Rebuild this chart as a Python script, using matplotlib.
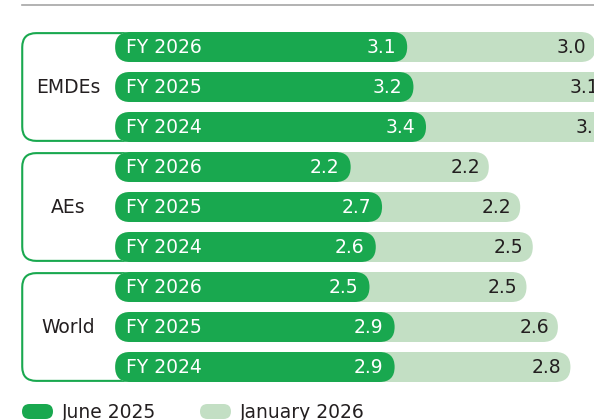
import matplotlib
matplotlib.use('Agg')
import matplotlib.pyplot as plt
from matplotlib.patches import FancyBboxPatch, Rectangle

plt.rcParams['font.family'] = ['DejaVu Sans']

# ---- data -------------------------------------------------------------
groups = ['EMDEs', 'AEs', 'World']
years = ['FY 2026', 'FY 2025', 'FY 2024']
june_2025 = [3.1, 3.2, 3.4, 2.2, 2.7, 2.6, 2.5, 2.9, 2.9]
jan_2026 = [3.0, 3.1, 3.0, 2.2, 2.2, 2.5, 2.5, 2.6, 2.8]
series_names = ['June 2025', 'January 2026']

# ---- style ------------------------------------------------------------
DARK = '#19a84f'
LIGHT = '#c3dfc4'
TEXT = '#231f20'
XMIN, XMAX = -3.384, 6.075
BAR_START = -1.55
BOX_LEFT = -3.03
LABEL_X = -2.3
BAR_H = 0.75
FS = 13.5
W, H = 594, 420

fig = plt.figure(figsize=(W / 100, H / 100), dpi=100)
ax = fig.add_axes([0, 0, 1, 1])
ax.set_xlim(XMIN, XMAX)
ax.set_ylim(9.325, -1.175)
ax.axis('off')

px_x = W / (XMAX - XMIN)
px_y = H / (9.325 + 1.175)
aspect = px_x / px_y


def pill(x0, x1, yc, h, r_px, **kw):
    r = r_px / px_x
    p = FancyBboxPatch((x0, yc - h / 2), x1 - x0, h,
                       boxstyle=f'round,pad=0,rounding_size={r}',
                       mutation_aspect=aspect, **kw)
    ax.add_patch(p)
    return p


n_years = len(years)
half_px = BAR_H * px_y / 2
frame_lw = 1.5
inset = frame_lw * 0.75 / px_y  # keep the frame line inside the bar edges

# group frames (right side hidden behind the bars)
frame_clip = Rectangle((XMIN, -2), 0 - XMIN, 14, transform=ax.transData)
for g, name in enumerate(groups):
    top = g * n_years
    bottom = top + n_years - 1
    yc = (top + bottom) / 2
    frame = pill(BOX_LEFT, 1.0, yc, bottom - top + BAR_H - 2 * inset, 14,
                 facecolor='white', edgecolor=DARK, linewidth=frame_lw,
                 zorder=1)
    frame.set_clip_path(frame_clip)
    ax.text(LABEL_X, yc, name, ha='center', va='center',
            fontsize=FS, color=TEXT, zorder=5)

# bars
for i, (a, b) in enumerate(zip(june_2025, jan_2026)):
    pill(BAR_START, a + b, i, BAR_H, half_px, facecolor=LIGHT,
         edgecolor='none', zorder=2)
    pill(BAR_START, a, i, BAR_H, half_px, facecolor=DARK,
         edgecolor='none', zorder=3)
    ax.annotate(years[i % n_years], (BAR_START, i), xytext=(8, 0),
                textcoords='offset points', ha='left', va='center',
                fontsize=FS, color='white', zorder=5)
    ax.annotate(f'{a:.1f}', (a, i), xytext=(-8, 0),
                textcoords='offset points', ha='right', va='center',
                fontsize=FS, color='white', zorder=5)
    ax.annotate(f'{b:.1f}', (a + b, i), xytext=(-6.5, 0),
                textcoords='offset points', ha='right', va='center',
                fontsize=FS, color=TEXT, zorder=5, annotation_clip=False)

# top rule
ax.plot([22 / W, 1], [1 - 5 / H, 1 - 5 / H], transform=ax.transAxes,
        color='#a6a6a6', lw=1.2, clip_on=False)

# legend
for k, (name, col) in enumerate(zip(series_names, [DARK, LIGHT])):
    x0 = (22 + 178 * k) / W
    leg = FancyBboxPatch((x0, 1 - 419 / H), 31 / W, 15 / H,
                         boxstyle=f'round,pad=0,rounding_size={7.5 / W}',
                         mutation_aspect=W / H, transform=ax.transAxes,
                         facecolor=col, edgecolor='none', clip_on=False)
    ax.add_patch(leg)
    ax.text(x0 + 40 / W, 1 - 412 / H, name, transform=ax.transAxes,
            ha='left', va='center', fontsize=FS, color=TEXT)

fig.savefig('out.png', dpi=100)
